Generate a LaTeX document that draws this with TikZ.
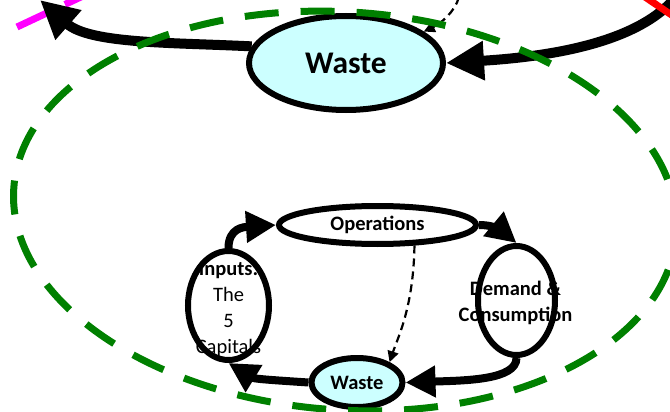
\documentclass[tikz,border=0pt]{standalone}
\usepackage{fontspec}
\setmainfont{Carlito}
\usetikzlibrary{arrows.meta,shapes.geometric}
\definecolor{wastefill}{RGB}{204,255,255}
\definecolor{loopgreen}{RGB}{0,128,0}
\definecolor{ringmagenta}{RGB}{255,0,255}
\definecolor{ringred}{RGB}{255,0,0}
\begin{document}
\begin{tikzpicture}[x=1pt,y=1pt,
  stage/.style={ellipse, draw=black, line width=6pt, inner sep=0pt},
  wastebox/.style={stage, fill=wastefill},
  label/.style={align=center, inner sep=0pt, font=\fontsize{20.5}{26}\selectfont},
  bigflow/.style={line width=10pt, -{Triangle[length=38pt,width=37pt]}},
  flow/.style={line width=8pt, -{Triangle[length=30pt,width=30pt]}},
  leak/.style={line width=2.2pt, dash pattern=on 8pt off 5pt, -{Triangle[length=11pt,width=11pt]}},
  outerloop/.style={line width=7pt, dash pattern=on 34pt off 22pt},
]
\useasboundingbox (0,0) rectangle (670,-412);
\clip (0,0) rectangle (670,-412);

% outer ring fragments
\draw[ringmagenta, line width=7pt, dash pattern=on 33pt off 20pt] (17,-27) -- (110,16.7);

% large waste node and its two flows
\node[wastebox, minimum width=194pt, minimum height=94pt,
      font=\bfseries\fontsize{31.5}{36}\selectfont] (bigwaste) at (346,-63) {Waste};
\coordinate (rin) at (676,3);
\coordinate (lout) at (40,0);
\draw[bigflow] (rin) .. controls (640,-40) and (560,-56) .. (bigwaste.east);
\draw[bigflow] (bigwaste.170) .. controls +(-80,4) and +(50,-44) .. (lout);
\draw[ringred, line width=7pt] (645,3) -- (676,-18);
\coordinate (leaktop) at (459,3);
\draw[leak] (leaktop) .. controls (455,-12) and (440,-24) .. (bigwaste.22);

% inner cycle: labels first, outlines on top
\node[label] (inputs-text) at (228.5,-310)
  {\textbf{Inputs:}\\The\\5\\Capitals};
\node[label, font=\bfseries\fontsize{20.5}{25.5}\selectfont] (demand-text) at (515.5,-303)
  {Demand \&\\Consumption};

\node[stage, minimum width=197pt, minimum height=38pt,
      font=\bfseries\fontsize{20.5}{25}\selectfont] (ops) at (377.5,-225) {Operations};
\node[stage, minimum width=81pt, minimum height=109pt] (inputs) at (228.5,-305.5) {};
\node[stage, minimum width=77pt, minimum height=109pt] (demand) at (516.5,-300.5) {};
\node[wastebox, minimum width=91pt, minimum height=49pt,
      font=\bfseries\fontsize{20.5}{25}\selectfont] (swaste) at (357,-382.5) {Waste};

\draw[flow] (inputs.north) .. controls +(0,20) and +(-32,-2) .. (ops.west);
\draw[flow] (ops.east) .. controls +(18,0) and +(-12,10) .. (demand.north);
\draw[flow] (demand.south) .. controls +(0,-22) and +(60,2) .. (swaste.east);
\draw[flow] (swaste.west) .. controls +(-30,2) and +(26,-16) .. (inputs.-90);
\draw[leak] (ops.-29) .. controls +(-1,-62) and +(8,24) .. (swaste.32);

% dashed boundary ring
\draw[loopgreen, outerloop, rotate around={-4:(345,-211)}] (345,-211) ellipse (332 and 199);
\end{tikzpicture}
\end{document}
